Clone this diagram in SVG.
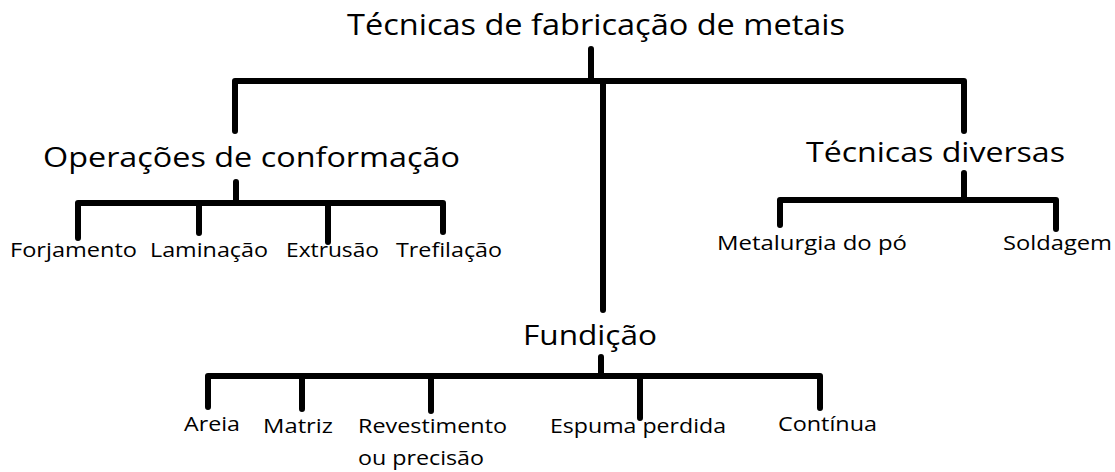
<svg xmlns="http://www.w3.org/2000/svg" width="1115" height="472" viewBox="0 0 1115 472">
<style>
.t{font-family:"Open Sans","Noto Sans","Liberation Sans",sans-serif;fill:#000}
.h1{font-size:30px}
.h2{font-size:27px}
.s{font-size:20px}
.c{fill:none;stroke:#000;stroke-width:6;stroke-linecap:round;stroke-linejoin:round}
</style>
<rect width="1115" height="472" fill="#fff"/>
<g id="connectors" class="c">
<path d="M591,49V81M235,131V81H964V131M603,81V310"/>
<path d="M236,182V203M78,238V203H443V232M199,203V233M328,203V242"/>
<path d="M964,173V200M780,225V200H1056V229"/>
<path d="M601,357V376M208,407V376H820V408M302,376V409M431,376V411M640,376V418"/>
</g>
<g id="root"><text class="t h1" x="347" y="35" textLength="498" lengthAdjust="spacingAndGlyphs">Técnicas de fabricação de metais</text></g>
<g id="conformacao"><text class="t h2" x="43" y="167" textLength="417" lengthAdjust="spacingAndGlyphs">Operações de conformação</text></g>
<g id="diversas"><text class="t h2" x="806" y="162" textLength="259" lengthAdjust="spacingAndGlyphs">Técnicas diversas</text></g>
<g id="fundicao"><text class="t h2" x="523" y="345" textLength="134" lengthAdjust="spacingAndGlyphs">Fundição</text></g>
<g id="forjamento"><text class="t s" x="10" y="257" textLength="127" lengthAdjust="spacingAndGlyphs">Forjamento</text></g>
<g id="laminacao"><text class="t s" x="150" y="257" textLength="118" lengthAdjust="spacingAndGlyphs">Laminação</text></g>
<g id="extrusao"><text class="t s" x="286" y="257" textLength="93" lengthAdjust="spacingAndGlyphs">Extrusão</text></g>
<g id="trefilacao"><text class="t s" x="396" y="257" textLength="106" lengthAdjust="spacingAndGlyphs">Trefilação</text></g>
<g id="metalurgia"><text class="t s" x="717" y="250" textLength="190" lengthAdjust="spacingAndGlyphs">Metalurgia do pó</text></g>
<g id="soldagem"><text class="t s" x="1003" y="250" textLength="109" lengthAdjust="spacingAndGlyphs">Soldagem</text></g>
<g id="areia"><text class="t s" x="184" y="431" textLength="56" lengthAdjust="spacingAndGlyphs">Areia</text></g>
<g id="matriz"><text class="t s" x="263" y="433" textLength="70" lengthAdjust="spacingAndGlyphs">Matriz</text></g>
<g id="revestimento"><text class="t s" x="358" y="433" textLength="149" lengthAdjust="spacingAndGlyphs">Revestimento</text><text class="t s" x="358" y="465" textLength="126" lengthAdjust="spacingAndGlyphs">ou precisão</text></g>
<g id="espuma"><text class="t s" x="550" y="433" textLength="176" lengthAdjust="spacingAndGlyphs">Espuma perdida</text></g>
<g id="continua"><text class="t s" x="778" y="431" textLength="99" lengthAdjust="spacingAndGlyphs">Contínua</text></g>
</svg>
